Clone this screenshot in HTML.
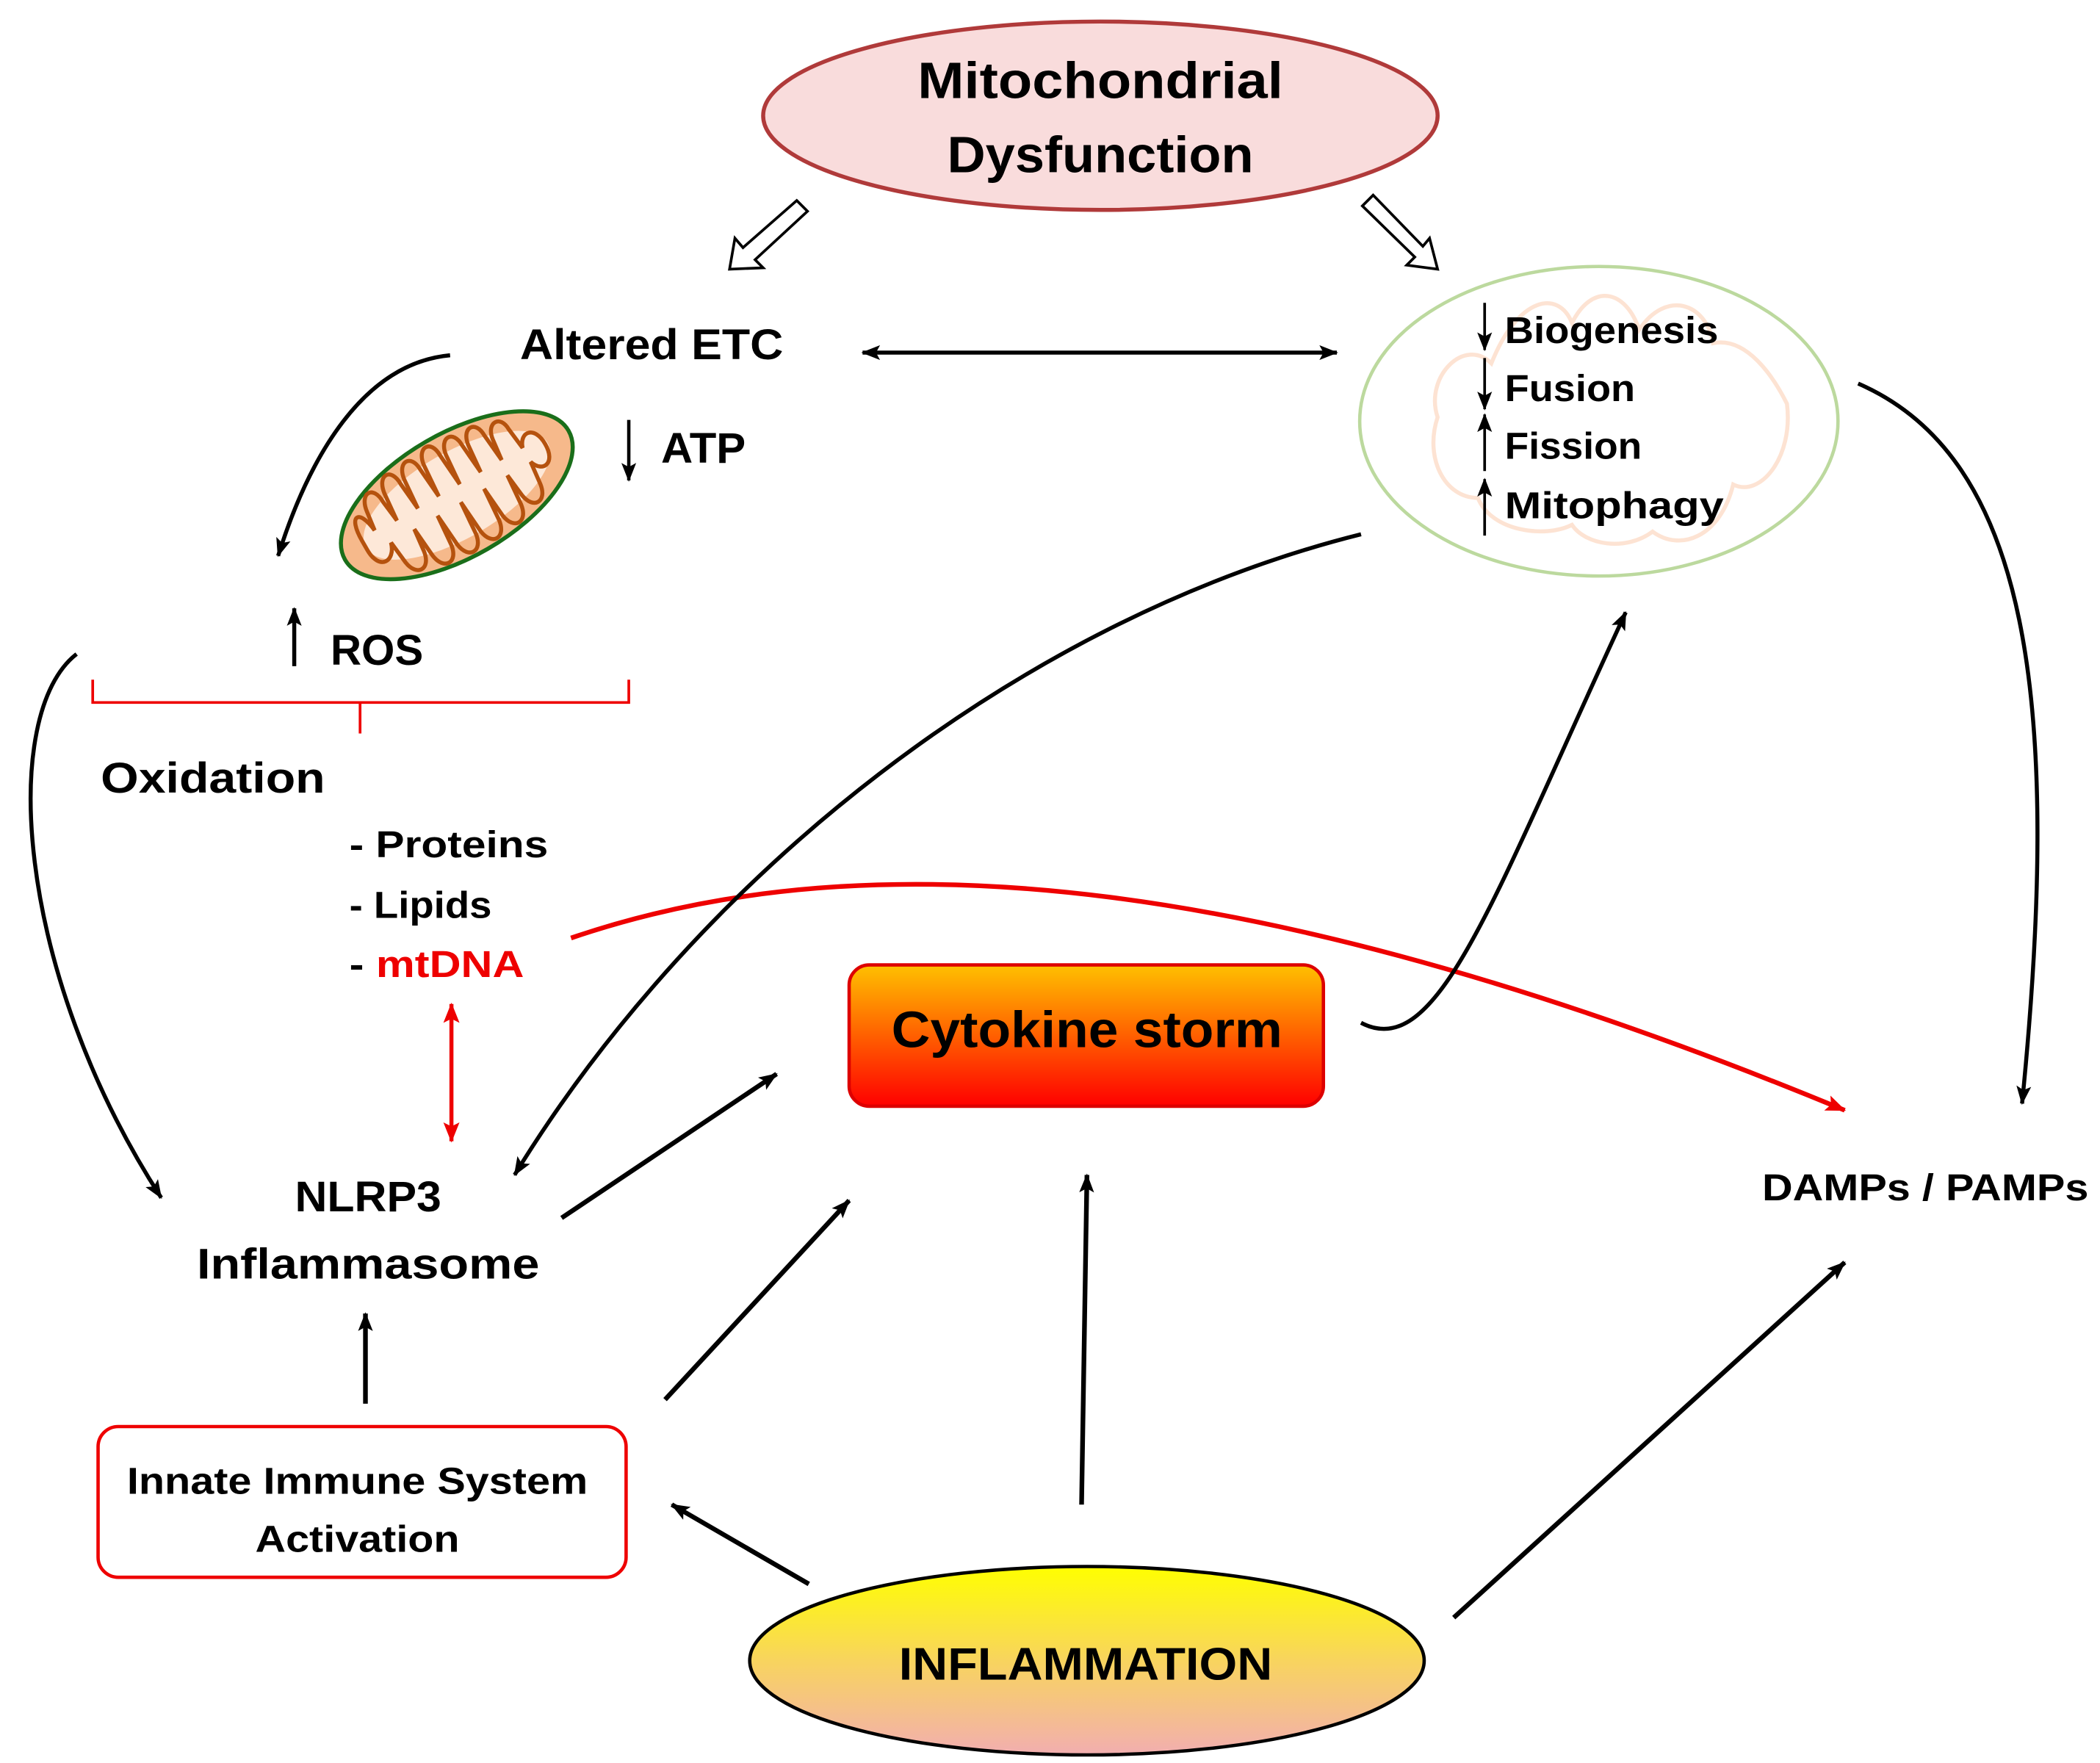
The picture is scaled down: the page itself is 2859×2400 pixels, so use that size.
<!DOCTYPE html>
<html><head><meta charset="utf-8"><style>
html,body{margin:0;padding:0;background:#fff;}
svg{display:block;}
text{font-family:"Liberation Sans",sans-serif;font-weight:bold;fill:#000;}
</style></head><body>
<svg width="2859" height="2400" viewBox="0 0 1563 1310" preserveAspectRatio="none" xmlns="http://www.w3.org/2000/svg">
<defs>
<marker id="ah" markerWidth="14" markerHeight="11" refX="13" refY="5.5" orient="auto" markerUnits="userSpaceOnUse"><path d="M0,0 L14,5.5 L0,11 L3,5.5 Z" fill="#000"/></marker>
<marker id="ahs" markerWidth="14" markerHeight="11" refX="1" refY="5.5" orient="auto" markerUnits="userSpaceOnUse"><path d="M14,0 L0,5.5 L14,11 L11,5.5 Z" fill="#000"/></marker>
<marker id="ahr" markerWidth="15" markerHeight="12" refX="14" refY="6" orient="auto" markerUnits="userSpaceOnUse"><path d="M0,0 L15,6 L0,12 L3,6 Z" fill="#e00"/></marker>
<marker id="ahrs" markerWidth="15" markerHeight="12" refX="1" refY="6" orient="auto" markerUnits="userSpaceOnUse"><path d="M15,0 L0,6 L15,12 L12,6 Z" fill="#e00"/></marker>
<linearGradient id="gc" x1="0" y1="0" x2="0" y2="1"><stop offset="0" stop-color="#ffc000"/><stop offset="1" stop-color="#ff0000"/></linearGradient>
<linearGradient id="gi" x1="0" y1="0" x2="0" y2="1"><stop offset="0" stop-color="#ffff00"/><stop offset="0.5" stop-color="#f8d45e"/><stop offset="1" stop-color="#f2aeb0"/></linearGradient>
</defs>

<ellipse cx="819" cy="86" rx="251" ry="70" fill="#f9dcdc" stroke="#b03a3a" stroke-width="3"/>
<text x="819" y="73" font-size="38" text-anchor="middle" textLength="272" lengthAdjust="spacingAndGlyphs">Mitochondrial</text>
<text x="819" y="128" font-size="38" text-anchor="middle" textLength="228" lengthAdjust="spacingAndGlyphs">Dysfunction</text>

<g fill="#fff" stroke="#000" stroke-width="2">
<path d="M593,149 L601,157 L562,193 L568,199 L543,200 L547,177 L553,184 Z"/>
<path d="M1014,153 L1022,145 L1059,183 L1064,177 L1070,200 L1047,197 L1053,191 Z"/>
</g>

<text x="485" y="267" font-size="32" text-anchor="middle" textLength="196" lengthAdjust="spacingAndGlyphs">Altered ETC</text>
<line x1="642" y1="262" x2="995" y2="262" stroke="#000" stroke-width="3" marker-end="url(#ah)" marker-start="url(#ahs)"/>

<ellipse cx="1190" cy="313" rx="178" ry="115" fill="none" stroke="#bcd99e" stroke-width="2.5"/>
<path d="M1070,310 C1060,280 1090,250 1110,270 C1130,220 1160,215 1170,240 C1185,210 1210,215 1220,245 C1240,215 1270,225 1275,255 C1300,250 1320,280 1330,300 C1335,340 1310,370 1290,360 C1280,400 1250,410 1230,395 C1210,410 1180,405 1170,390 C1150,400 1110,395 1100,370 C1075,370 1060,340 1070,310 Z" fill="none" stroke="#fde3d3" stroke-width="3"/>
<g stroke="#000" stroke-width="2">
<line x1="1105" y1="225" x2="1105" y2="260" marker-end="url(#ah)"/>
<line x1="1105" y1="266" x2="1105" y2="304" marker-end="url(#ah)"/>
<line x1="1105" y1="350" x2="1105" y2="308" marker-end="url(#ah)"/>
<line x1="1105" y1="398" x2="1105" y2="356" marker-end="url(#ah)"/>
</g>
<text x="1120" y="255" font-size="28" textLength="159" lengthAdjust="spacingAndGlyphs">Biogenesis</text>
<text x="1120" y="298" font-size="28" textLength="97" lengthAdjust="spacingAndGlyphs">Fusion</text>
<text x="1120" y="341" font-size="28" textLength="102" lengthAdjust="spacingAndGlyphs">Fission</text>
<text x="1120" y="385" font-size="28" textLength="163" lengthAdjust="spacingAndGlyphs">Mitophagy</text>

<path d="M335,264 C270,270 230,340 207,413" fill="none" stroke="#000" stroke-width="3" marker-end="url(#ah)"/>

<g transform="rotate(-30 340 368)">
<ellipse cx="340" cy="368" rx="96" ry="46" fill="#f6b98b" stroke="#1a6e1a" stroke-width="3"/>
<ellipse cx="340" cy="368" rx="78" ry="32" fill="#fde8d8"/>
<path d="M262,362 C262,340 272,340 274,360 L276,345 C278,330 290,330 290,345 L292,362 L294,340 C296,325 308,325 308,340 L310,362 L312,338 C314,324 326,324 326,338 L328,362 L330,336 C332,322 344,322 344,336 L346,362 L348,338 C350,324 362,324 362,338 L364,362 L366,340 C368,326 380,326 380,340 L382,362 L384,345 C386,332 398,332 398,345 L400,362 C404,350 416,352 416,368 C416,384 404,386 400,374 L398,392 C396,406 384,406 382,392 L380,374 L378,398 C376,412 364,412 362,398 L360,374 L358,400 C356,414 344,414 342,400 L340,374 L338,400 C336,414 324,414 322,400 L320,374 L318,398 C316,412 304,412 302,398 L300,374 L298,392 C296,406 284,406 282,392 L280,374 C276,388 262,388 262,370 Z" fill="none" stroke="#b5520e" stroke-width="3"/>
</g>

<line x1="468" y1="312" x2="468" y2="357" stroke="#000" stroke-width="2.5" marker-end="url(#ah)"/>
<text x="492" y="344" font-size="32" textLength="63" lengthAdjust="spacingAndGlyphs">ATP</text>

<line x1="219" y1="495" x2="219" y2="452" stroke="#000" stroke-width="3" marker-end="url(#ah)"/>
<text x="246" y="494" font-size="32" textLength="69" lengthAdjust="spacingAndGlyphs">ROS</text>

<path d="M69,505 L69,522 L268,522 L268,545 M268,522 L468,522 L468,505" fill="none" stroke="#e00" stroke-width="2"/>

<text x="75" y="589" font-size="32" textLength="167" lengthAdjust="spacingAndGlyphs">Oxidation</text>
<text x="260" y="637" font-size="28" textLength="148" lengthAdjust="spacingAndGlyphs">- Proteins</text>
<text x="260" y="682" font-size="28" textLength="106" lengthAdjust="spacingAndGlyphs">- Lipids</text>
<text x="260" y="726" font-size="28" textLength="130" lengthAdjust="spacingAndGlyphs">- <tspan fill="#e00">mtDNA</tspan></text>

<path d="M57,486 C0,530 10,720 120,890" fill="none" stroke="#000" stroke-width="3" marker-end="url(#ah)"/>

<line x1="336" y1="746" x2="336" y2="848" stroke="#e00" stroke-width="3" marker-start="url(#ahrs)" marker-end="url(#ahr)"/>

<path d="M425,697 C650,620 950,650 1373,825" fill="none" stroke="#e00" stroke-width="3.5" marker-end="url(#ahr)"/>

<text x="274" y="900" font-size="32" text-anchor="middle" textLength="109" lengthAdjust="spacingAndGlyphs">NLRP3</text>
<text x="274" y="950" font-size="32" text-anchor="middle" textLength="255" lengthAdjust="spacingAndGlyphs">Inflammasome</text>

<path d="M1013,397 C760,460 520,650 383,873" fill="none" stroke="#000" stroke-width="3" marker-end="url(#ah)"/>

<rect x="632" y="717" width="353" height="105" rx="15" fill="url(#gc)" stroke="#d00" stroke-width="2.5"/>
<text x="809" y="778" font-size="38" text-anchor="middle" textLength="291" lengthAdjust="spacingAndGlyphs">Cytokine storm</text>

<path d="M1013,760 C1070,790 1110,670 1210,455" fill="none" stroke="#000" stroke-width="3" marker-end="url(#ah)"/>

<path d="M1383,285 C1510,340 1535,520 1505,820" fill="none" stroke="#000" stroke-width="3" marker-end="url(#ah)"/>

<text x="1433" y="892" font-size="28" text-anchor="middle" textLength="243" lengthAdjust="spacingAndGlyphs">DAMPs / PAMPs</text>

<g stroke="#000" stroke-width="3.5" fill="none">
<line x1="418" y1="905" x2="578" y2="798" marker-end="url(#ah)"/>
<line x1="495" y1="1040" x2="632" y2="892" marker-end="url(#ah)"/>
<line x1="805" y1="1118" x2="809" y2="873" marker-end="url(#ah)"/>
<line x1="272" y1="1043" x2="272" y2="976" marker-end="url(#ah)"/>
<line x1="602" y1="1177" x2="500" y2="1118" marker-end="url(#ah)"/>
<line x1="1082" y1="1202" x2="1373" y2="938" marker-end="url(#ah)"/>
</g>

<rect x="73" y="1060" width="393" height="112" rx="15" fill="#fff" stroke="#e00" stroke-width="2.5"/>
<text x="266" y="1110" font-size="28" text-anchor="middle" textLength="343" lengthAdjust="spacingAndGlyphs">Innate Immune System</text>
<text x="266" y="1153" font-size="28" text-anchor="middle" textLength="152" lengthAdjust="spacingAndGlyphs">Activation</text>

<ellipse cx="809" cy="1234" rx="251" ry="70" fill="url(#gi)" stroke="#000" stroke-width="2.5"/>
<text x="808" y="1248" font-size="34" text-anchor="middle" textLength="278" lengthAdjust="spacingAndGlyphs">INFLAMMATION</text>
</svg>
</body></html>
